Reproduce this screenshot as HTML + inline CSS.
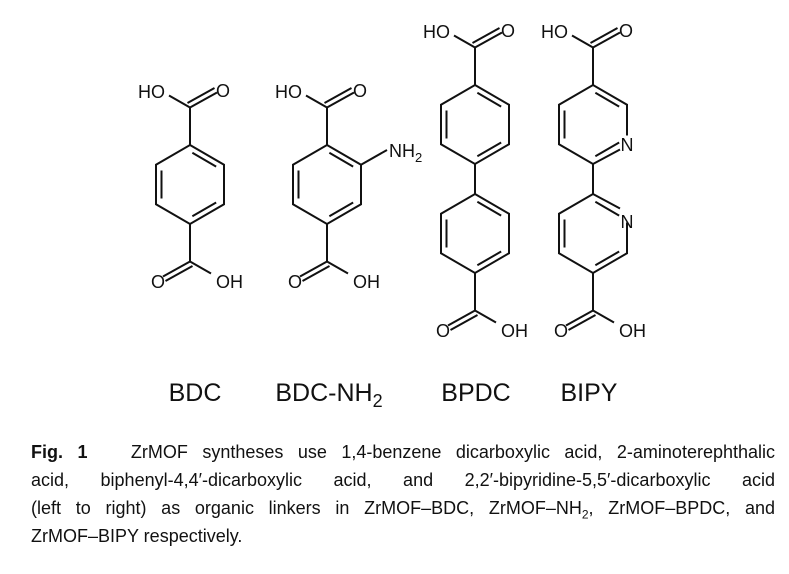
<!DOCTYPE html>
<html><head><meta charset="utf-8"><style>
html,body{margin:0;padding:0;background:#fff;}
body{width:789px;height:574px;position:relative;overflow:hidden;font-family:"Liberation Sans",sans-serif;color:#111;}
svg{position:absolute;left:0;top:0;}
.cap{position:absolute;left:31px;width:744px;font-size:18px;line-height:28px;}
.cap div{white-space:nowrap;height:28px;}
.j{text-align:justify;text-align-last:justify;white-space:normal!important;}
</style></head><body>
<svg width="789" height="420" viewBox="0 0 789 420" xmlns="http://www.w3.org/2000/svg">
<defs>
<g id="inner" stroke="#111" stroke-width="2" fill="none">
<line x1="-28.5" y1="-14" x2="-28.5" y2="14"/>
<line x1="2.35" y1="-31.7" x2="26.15" y2="-17.9"/>
<line x1="26.15" y1="18" x2="2.35" y2="31.8"/>
</g>
<g id="ring" stroke="#111" stroke-width="2" fill="none" stroke-linejoin="miter">
<polygon points="0,-39.5 34,-19.75 34,19.75 0,39.5 -34,19.75 -34,-19.75"/>
<use href="#inner"/>
</g>
<g id="ctop" stroke="#111" stroke-width="2" fill="none">
<line x1="0" y1="-39.5" x2="0" y2="-77"/>
<line x1="0" y1="-77" x2="27" y2="-92"/>
<line x1="-2.5" y1="-81.5" x2="24.5" y2="-96.5"/>
<line x1="0" y1="-77" x2="-21" y2="-89"/>
</g>
<g id="cbot" stroke="#111" stroke-width="2" fill="none">
<line x1="0" y1="39.5" x2="0" y2="77"/>
<line x1="0" y1="77" x2="-27" y2="92"/>
<line x1="2.5" y1="81.5" x2="-24.5" y2="96.5"/>
<line x1="0" y1="77" x2="21" y2="89"/>
</g>
</defs>
<g font-family="Liberation Sans, sans-serif" font-size="18" fill="#111">
<g transform="translate(190,184.5)"><use href="#ring"/><use href="#ctop"/><use href="#cbot"/></g>
<text x="165" y="98" text-anchor="end">HO</text>
<text x="223" y="97" text-anchor="middle">O</text>
<text x="158" y="288" text-anchor="middle">O</text>
<text x="216" y="288">OH</text>
<g transform="translate(327,184.5)"><use href="#ring"/><use href="#ctop"/><use href="#cbot"/></g>
<line x1="361" y1="164.75" x2="387" y2="150" stroke="#111" stroke-width="2"/>
<text x="302" y="98" text-anchor="end">HO</text>
<text x="360" y="97" text-anchor="middle">O</text>
<text x="295" y="288" text-anchor="middle">O</text>
<text x="353" y="288">OH</text>
<text x="389" y="157">NH<tspan font-size="13" dy="5">2</tspan></text>
<g transform="translate(475,124.5)"><use href="#ring"/><use href="#ctop"/></g>
<g transform="translate(475,233.5)"><use href="#ring"/><use href="#cbot"/></g>
<line x1="475" y1="164" x2="475" y2="194" stroke="#111" stroke-width="2"/>
<text x="450" y="38" text-anchor="end">HO</text>
<text x="508" y="37" text-anchor="middle">O</text>
<text x="443" y="337" text-anchor="middle">O</text>
<text x="501" y="337">OH</text>
<g transform="translate(593,124.5)" stroke="#111" stroke-width="2" fill="none">
<polyline points="27,25 0,39.5 -34,19.75 -34,-19.75 0,-39.5 34,-19.75 34,11"/>
<use href="#inner"/><use href="#ctop"/>
</g>
<g transform="translate(593,233.5)" stroke="#111" stroke-width="2" fill="none">
<polyline points="27,-25 0,-39.5 -34,-19.75 -34,19.75 0,39.5 34,19.75 34,-11"/>
<use href="#inner"/><use href="#cbot"/>
</g>
<line x1="593" y1="164" x2="593" y2="194" stroke="#111" stroke-width="2"/>
<text x="627" y="151" text-anchor="middle">N</text>
<text x="627" y="228" text-anchor="middle">N</text>
<text x="568" y="38" text-anchor="end">HO</text>
<text x="626" y="37" text-anchor="middle">O</text>
<text x="561" y="337" text-anchor="middle">O</text>
<text x="619" y="337">OH</text>
</g>
<g font-family="Liberation Sans, sans-serif" font-size="25" fill="#111" text-anchor="middle">
<text x="195" y="401">BDC</text>
<text x="329" y="401">BDC-NH<tspan font-size="18" dy="6">2</tspan></text>
<text x="476" y="401">BPDC</text>
<text x="589" y="401">BIPY</text>
</g>
</svg>
<div class="cap" style="top:438px;">
<div class="j"><b>Fig. 1</b>&nbsp;&nbsp; ZrMOF syntheses use 1,4-benzene dicarboxylic acid, 2-aminoterephthalic</div>
<div class="j">acid, biphenyl-4,4′-dicarboxylic acid, and 2,2′-bipyridine-5,5′-dicarboxylic acid</div>
<div class="j">(left to right) as organic linkers in ZrMOF–BDC, ZrMOF–NH<sub style="font-size:12px">2</sub>, ZrMOF–BPDC, and</div>
<div>ZrMOF–BIPY respectively.</div>
</div>
</body></html>
